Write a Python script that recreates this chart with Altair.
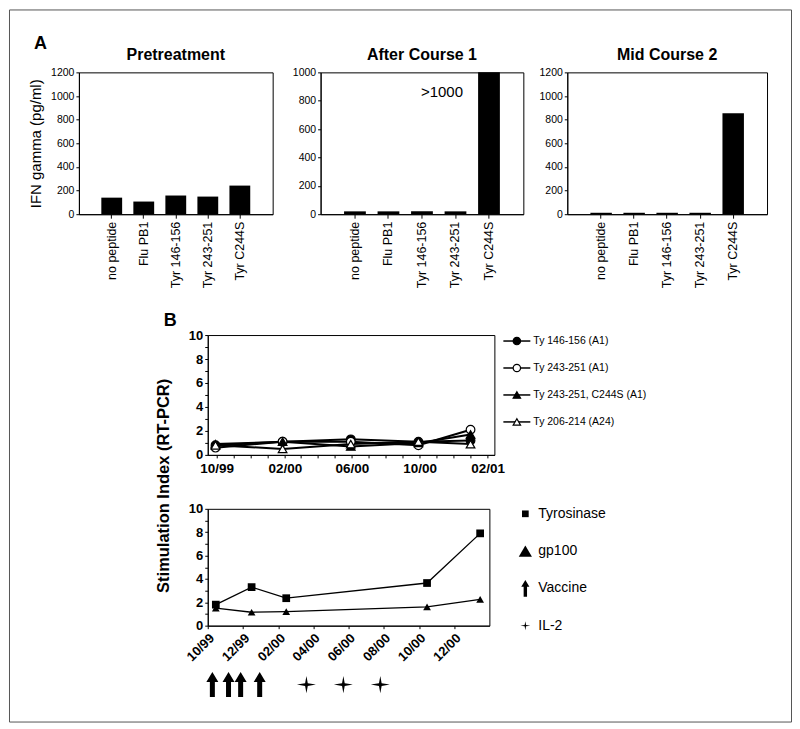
import altair as alt
import pandas as pd

FONT = "Liberation Sans"

# ---------------- data ----------------
# Panel A
peptides = ["no peptide", "Flu PB1", "Tyr 146-156", "Tyr 243-251", "Tyr C244S"]
pre_ifn = [140, 107, 158, 149, 242]
after_ifn = [20, 20, 20, 20, 1000]
mid_ifn = [12, 12, 12, 12, 855]
panel_titles = ["Pretreatment", "After Course 1", "Mid Course 2"]
after_note = ">1000"
after_note_y = [862]

# Panel B, top
top_dates = ["1999-09-29", "2000-01-28", "2000-05-30", "2000-09-29", "2001-01-01"]
top_series = ["Ty 146-156 (A1)", "Ty 243-251 (A1)", "Ty 243-251, C244S (A1)", "Ty 206-214 (A24)"]
ty146 = [0.8, 1.1, 1.3, 1.1, 1.2]
ty243 = [0.6, 1.1, 1.1, 0.8, 2.1]
ty243c = [0.9, 1.1, 0.7, 1.0, 1.7]
ty206 = [0.8, 0.5, 0.9, 1.1, 0.9]

# Panel B, bottom
bot_dates = ["1999-10-15", "1999-12-16", "2000-02-14", "2000-10-15", "2001-01-15"]
bot_series = ["Tyrosinase", "gp100"]
tyrosinase = [1.8, 3.3, 2.35, 3.65, 7.9]
gp100 = [1.5, 1.15, 1.2, 1.6, 2.25]
vaccine_dates = ["1999-10-09", "1999-11-06", "1999-11-27", "1999-12-30"]
il2_dates = ["2000-03-20", "2000-05-23", "2000-07-26"]
bot_legend = ["Tyrosinase", "gp100", "Vaccine", "IL-2"]

ARROW = "M-0.2,1 L0.2,1 L0.2,-0.2 L0.48,-0.2 L0,-1 L-0.48,-0.2 L-0.2,-0.2 Z"
STAR = "M0,-0.9 L0.14,-0.14 L1,0 L0.14,0.14 L0,0.9 L-0.14,0.14 L-1,0 L-0.14,-0.14 Z"

one = pd.DataFrame({"v": [0]})
FRAME = alt.ViewBackground(stroke="black", strokeWidth=1)


def dt(y, m, d):
    return alt.DateTime(year=y, month=m, date=d, utc=True)


def spacer(w, h, title=None):
    c = alt.Chart(one).mark_point(opacity=0, size=0, strokeWidth=0).properties(width=w, height=h)
    if title is not None:
        c = c.properties(title=title)
    return c


# ---------------- Panel A ----------------
def bar_panel(title, vals, ymax, width, ytitle=None, note=False):
    df = pd.DataFrame({"peptide": peptides, "ifn": vals})
    yax = dict(values=list(range(0, ymax + 1, 200)), format="d", tickSize=3, labelPadding=2,
               labelFontSize=10.5, grid=False, labelOverlap=False, labelFlush=False)
    if ytitle:
        yax.update(title=ytitle, titleFontSize=15, titleFontWeight="normal",
                   titleX=-38, titleBaseline="alphabetic")
    else:
        yax["title"] = None
    x = alt.X("peptide:N", sort=peptides,
              scale=alt.Scale(paddingInner=0.35, paddingOuter=0.7),
              axis=alt.Axis(title=None, labelAngle=270, labelAlign="right",
                            labelBaseline="middle", labelFontSize=12.5, tickSize=4,
                            labelPadding=3))
    y = alt.Y("ifn:Q", scale=alt.Scale(domain=[0, ymax], nice=False, clamp=True),
              axis=alt.Axis(**yax))
    bars = alt.Chart(df).mark_bar(color="black").encode(x=x, y=y)
    layers = [bars]
    if note:
        ndf = pd.DataFrame({"peptide": [peptides[-1]], "ifn": after_note_y, "t": [after_note]})
        layers.append(alt.Chart(ndf).mark_text(align="right", baseline="middle", dx=-26,
                                               fontSize=15, color="black")
                      .encode(x=x, y=y, text="t:N"))
    ch = alt.layer(*layers) if len(layers) > 1 else bars
    return ch.properties(width=width, height=142,
                         title=alt.TitleParams(title, fontSize=16, fontWeight="bold", offset=4),
                         view=FRAME)


pre = bar_panel(panel_titles[0], pre_ifn, 1200, 194, ytitle="IFN gamma (pg/ml)")
after = bar_panel(panel_titles[1], after_ifn, 1000, 203, note=True)
mid = bar_panel(panel_titles[2], mid_ifn, 1200, 200)

# ---------------- Panel B common axes ----------------
def y_si_axis(**kw):
    return alt.Axis(values=list(range(0, 11)),
                    labelExpr="datum.value % 2 == 0 ? datum.label : ''",
                    labelFontWeight="bold", labelFontSize=13, tickSize=3,
                    labelPadding=2, grid=False, labelFlush=False, labelOverlap=False, **kw)


y_scale = alt.Scale(domain=[0, 10], nice=False)

# ---------------- Panel B top ----------------
top_vals = [ty146, ty243, ty243c, ty206]
top_df = pd.DataFrame([{"date": d, "series": s, "si": v}
                       for s, vals in zip(top_series, top_vals)
                       for d, v in zip(top_dates, vals)])
top_months = [dt(1999, m, 1) for m in (10, 11, 12)] + \
             [dt(2000, m, 1) for m in range(1, 13)] + [dt(2001, 1, 1), dt(2001, 2, 1)]
top_x = alt.X("date:T",
              scale=alt.Scale(type="utc", nice=False, domain=[dt(1999, 9, 15), dt(2001, 2, 13)]),
              axis=alt.Axis(values=top_months, title=None, grid=False,
                            labelExpr="utcmonth(datum.value) % 4 == 1 ? utcFormat(datum.value, '%m/%y') : ''",
                            labelFontWeight="bold", labelFontSize=13.5, tickSize=3,
                            labelPadding=4, labelOverlap=False, labelFlush=False))
top_y = alt.Y("si:Q", scale=y_scale, axis=y_si_axis(title=None))
shape_top = alt.Shape("series:N", scale=alt.Scale(domain=top_series,
                      range=["circle", "circle", "triangle-up", "triangle-up"]), legend=None)
fill_top = alt.Fill("series:N", scale=alt.Scale(domain=top_series,
                    range=["black", "white", "black", "white"]), legend=None)
top_lines = alt.Chart(top_df).mark_line(color="black", strokeWidth=2).encode(
    x=top_x, y=top_y, detail="series:N")
top_pts = alt.Chart(top_df).mark_point(filled=True, stroke="black", strokeWidth=1.2,
                                       size=75, opacity=1).encode(
    x=top_x, y=top_y, shape=shape_top, fill=fill_top)
top_chart = alt.layer(top_lines, top_pts).properties(width=287, height=120, view=FRAME)

leg_df = pd.DataFrame({"series": top_series})
ly = alt.Y("series:N", sort=top_series,
           scale=alt.Scale(type="point", padding=0.222, domain=top_series), axis=None)
leg_rule = alt.Chart(leg_df).mark_rule(color="black", strokeWidth=1.5).encode(
    y=ly, x=alt.value(0), x2=alt.value(27))
leg_pts = alt.Chart(leg_df).mark_point(filled=True, stroke="black", strokeWidth=1.2,
                                       size=55, opacity=1).encode(
    y=ly, x=alt.value(13.5), shape=shape_top, fill=fill_top)
leg_txt = alt.Chart(leg_df).mark_text(align="left", baseline="middle", fontSize=10.5,
                                      color="black").encode(
    y=ly, x=alt.value(30), text="series:N")
leg_top = alt.layer(leg_rule, leg_pts, leg_txt).properties(width=160, height=93)

# ---------------- Panel B bottom ----------------
bot_df = pd.DataFrame([{"date": d, "series": s, "si": v}
                       for s, vals in zip(bot_series, [tyrosinase, gp100])
                       for d, v in zip(bot_dates, vals)])
bot_domain = [dt(1999, 10, 1), dt(2001, 1, 31)]
bot_ticks = [dt(1999, 10, 1), dt(1999, 12, 1)] + [dt(2000, m, 1) for m in (2, 4, 6, 8, 10, 12)]
bot_x = alt.X("date:T", scale=alt.Scale(type="utc", nice=False, domain=bot_domain),
              axis=alt.Axis(values=bot_ticks, title=None, grid=False,
                            labelExpr="utcFormat(datum.value, '%m/%y')",
                            labelFontWeight="bold", labelFontSize=13, labelAngle=315,
                            labelAlign="right", labelBaseline="middle", tickSize=3,
                            labelPadding=7, labelOffset=4, labelOverlap=False,
                            labelFlush=False))
bot_y = alt.Y("si:Q", scale=y_scale,
              axis=y_si_axis(title="Stimulation Index (RT-PCR)", titleFontSize=16.5,
                             titleFontWeight="bold", titleX=-39, titleY=-23.5,
                             titleBaseline="alphabetic"))
bot_lines = alt.Chart(bot_df).mark_line(color="black", strokeWidth=1.3).encode(
    x=bot_x, y=bot_y, detail="series:N")
bot_layers = [bot_lines]
for name, shp in zip(bot_series, ["square", "triangle-up"]):
    bot_layers.append(alt.Chart(bot_df).transform_filter(alt.datum.series == name)
                      .mark_point(filled=True, color="black", shape=shp, size=60, opacity=1)
                      .encode(x=bot_x, y=bot_y))
bot_chart = alt.layer(*bot_layers).properties(width=282, height=117, view=FRAME)

bl_df = pd.DataFrame({"item": bot_legend})
bly = alt.Y("item:N", sort=bot_legend,
            scale=alt.Scale(type="point", padding=0.134, domain=bot_legend), axis=None)
bl_shapes = ["square", "triangle-up", ARROW, STAR]
bl_sizes = [45, 175, 289, 100]
bl_layers = []
for name, shp, sz in zip(bot_legend, bl_shapes, bl_sizes):
    bl_layers.append(alt.Chart(bl_df).transform_filter(alt.datum.item == name)
                     .mark_point(filled=True, color="black", shape=shp, size=sz, opacity=1)
                     .encode(y=bly, x=alt.value(15)))
bl_layers.append(alt.Chart(bl_df).mark_text(align="left", baseline="middle", fontSize=14,
                                            color="black")
                 .encode(y=bly, x=alt.value(28), text="item:N"))
leg_bot = alt.layer(*bl_layers).properties(width=120, height=122)

# treatment markers (vaccine / IL-2) on the same time axis
ev_x = alt.X("date:T", scale=alt.Scale(type="utc", nice=False, domain=bot_domain), axis=None)
vac = alt.Chart(pd.DataFrame({"date": vaccine_dates})).mark_point(
    filled=True, color="black", shape=ARROW, size=625, opacity=1).encode(x=ev_x)
il2 = alt.Chart(pd.DataFrame({"date": il2_dates})).mark_point(
    filled=True, color="black", shape=STAR, size=361, opacity=1).encode(x=ev_x)
events = alt.layer(vac, il2).properties(width=282, height=32)

# ---------------- layout ----------------
def row(*charts):
    return alt.hconcat(*charts, spacing=0, bounds="flush")


frame = spacer(783, 713).properties(view=alt.ViewBackground(stroke="#555555", strokeWidth=1))

rowA = row(spacer(70, 142, alt.TitleParams("A", fontSize=18, fontWeight="bold", anchor="start",
                                           dx=25, offset=19)),
           pre, spacer(48, 1), after, spacer(44, 1), mid)
rowB = row(spacer(199, 120, alt.TitleParams("B", fontSize=18, fontWeight="bold", anchor="start",
                                            dx=155, offset=5)),
           top_chart, spacer(9, 1), leg_top)
rowC = row(spacer(199, 117), bot_chart, spacer(21, 1), leg_bot)
rowD = row(spacer(199, 32), events)

chart = alt.vconcat(
    row(frame),            # nested: takes no room in the flush layout
    spacer(1, 63), rowA,
    spacer(1, 263), rowB,
    spacer(1, 174), rowC,
    spacer(1, 160), rowD,
    spacing=0, bounds="flush",
).properties(padding=0)
chart = chart.configure(font=FONT).configure_view(stroke="transparent").configure_axis(
    domainColor="black", tickColor="black", labelColor="black", titleColor="black",
    labelFont=FONT, titleFont=FONT).configure_title(font=FONT, color="black").configure_text(
    font=FONT)

chart.save("out.html", embed_options={"renderer": "svg", "actions": False})
